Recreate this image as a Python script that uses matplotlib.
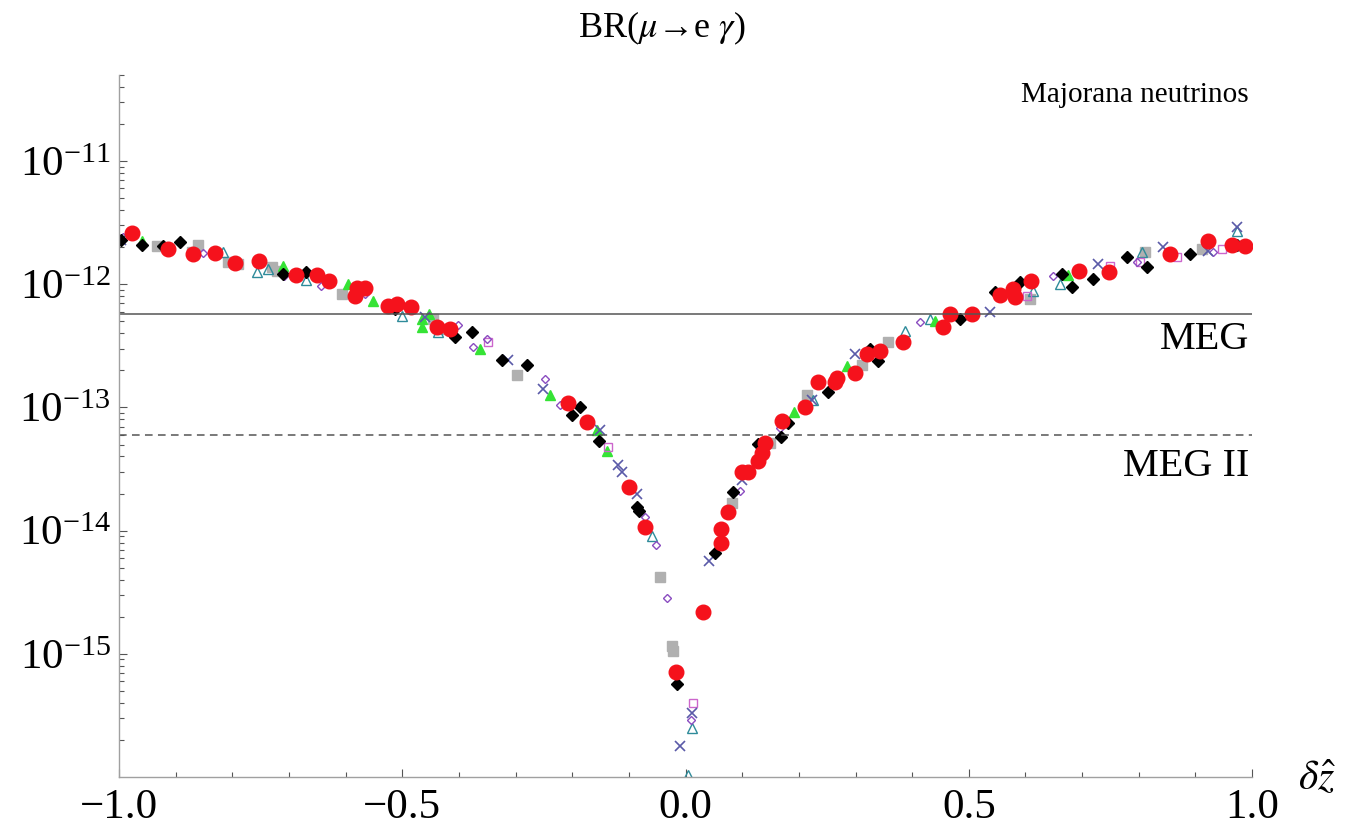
import matplotlib
matplotlib.use("Agg")
import matplotlib.pyplot as plt
from matplotlib.ticker import FixedLocator, NullFormatter, LogFormatterMathtext

plt.rcParams['font.family'] = ['Liberation Serif', 'DejaVu Serif']
plt.rcParams['mathtext.fontset'] = 'stix'

# --- scan points, one list pair per parameter set ---
red_x = [-0.977, -0.914, -0.869, -0.831, -0.795, -0.753, -0.688, -0.650, -0.629, -0.583,
         -0.580, -0.566, -0.525, -0.509, -0.485, -0.439, -0.416, -0.207, -0.174, -0.100,
         -0.071, -0.017, 0.031, 0.063, 0.063, 0.075, 0.100, 0.110, 0.128, 0.135,
         0.140, 0.170, 0.211, 0.234, 0.264, 0.267, 0.299, 0.320, 0.343, 0.384,
         0.455, 0.467, 0.506, 0.555, 0.578, 0.582, 0.610, 0.695, 0.748, 0.855,
         0.922, 0.965, 0.988]
red_br = [2.6e-12, 1.94e-12, 1.77e-12, 1.8e-12, 1.49e-12, 1.55e-12, 1.19e-12, 1.19e-12, 1.06e-12, 8.0e-13,
          9.3e-13, 9.3e-13, 6.6e-13, 6.9e-13, 6.5e-13, 4.5e-13, 4.3e-13, 1.09e-13, 7.6e-14, 2.25e-14,
          1.08e-14, 7.1e-16, 2.2e-15, 8.0e-15, 1.04e-14, 1.41e-14, 3.0e-14, 3.0e-14, 3.7e-14, 4.3e-14,
          5.15e-14, 7.8e-14, 1.0e-13, 1.6e-13, 1.6e-13, 1.75e-13, 1.9e-13, 2.7e-13, 2.85e-13, 3.4e-13,
          4.5e-13, 5.7e-13, 5.7e-13, 8.2e-13, 9.1e-13, 7.9e-13, 1.06e-12, 1.28e-12, 1.26e-12, 1.77e-12,
          2.25e-12, 2.1e-12, 2.05e-12]

black_x = [-0.996, -0.959, -0.922, -0.892, -0.711, -0.670, -0.513, -0.407, -0.377, -0.324,
           -0.280, -0.200, -0.186, -0.153, -0.086, -0.082, -0.015, 0.052, 0.084, 0.128,
           0.169, 0.181, 0.252, 0.326, 0.340, 0.485, 0.546, 0.590, 0.665, 0.682,
           0.719, 0.779, 0.815, 0.891, 0.974]
black_br = [2.3e-12, 2.1e-12, 2.05e-12, 2.2e-12, 1.21e-12, 1.26e-12, 6.3e-13, 3.7e-13, 4.1e-13, 2.45e-13,
            2.2e-13, 8.7e-14, 1.0e-13, 5.35e-14, 1.55e-14, 1.44e-14, 5.7e-16, 6.6e-15, 2.05e-14, 5.05e-14,
            5.8e-14, 7.5e-14, 1.34e-13, 3.0e-13, 2.4e-13, 5.2e-13, 8.6e-13, 1.04e-12, 1.21e-12, 9.5e-13,
            1.10e-12, 1.67e-12, 1.38e-12, 1.77e-12, 2.1e-12]

grey_x = [-0.933, -0.871, -0.861, -0.808, -0.790, -0.730, -0.721, -0.606, -0.446, -0.433,
          -0.297, -0.045, -0.024, -0.022, 0.082, 0.149, 0.214, 0.312, 0.357, 0.608,
          0.811, 0.912, 0.965]
grey_br = [2.05e-12, 1.83e-12, 2.1e-12, 1.52e-12, 1.46e-12, 1.38e-12, 1.28e-12, 8.3e-13, 5.2e-13, 4.3e-13,
           1.85e-13, 4.2e-15, 1.16e-15, 1.05e-15, 1.67e-14, 5.15e-14, 1.27e-13, 2.2e-13, 3.4e-13, 7.6e-13,
           1.83e-12, 1.94e-12, 2.05e-12]

green_x = [-0.959, -0.711, -0.596, -0.552, -0.465, -0.465, -0.453, -0.363, -0.239, -0.156,
           -0.139, 0.192, 0.285, 0.440, 0.675]
green_br = [2.25e-12, 1.41e-12, 1.0e-12, 7.3e-13, 5.2e-13, 4.5e-13, 5.7e-13, 3.0e-13, 1.27e-13, 6.6e-14,
            4.4e-14, 9.2e-14, 2.15e-13, 5.0e-13, 1.19e-12]

teal_x = [-0.816, -0.756, -0.737, -0.670, -0.500, -0.437, -0.059, 0.011, 0.004, 0.225,
          0.387, 0.432, 0.613, 0.661, 0.806, 0.974]
teal_br = [1.83e-12, 1.26e-12, 1.33e-12, 1.08e-12, 5.5e-13, 4.1e-13, 9.1e-15, 2.5e-16, 1.04e-16, 1.16e-13,
           4.15e-13, 5.2e-13, 8.8e-13, 1.0e-12, 1.83e-12, 2.7e-12]

purple_x = [-0.993, -0.852, -0.709, -0.643, -0.566, -0.402, -0.375, -0.350, -0.248, -0.222,
            -0.071, -0.052, -0.033, 0.010, 0.096, 0.167, 0.414, 0.649, 0.797, 0.931]
purple_br = [2.4e-12, 1.8e-12, 1.17e-12, 9.7e-13, 8.3e-13, 4.7e-13, 3.1e-13, 3.6e-13, 1.7e-13, 1.05e-13,
             1.28e-14, 7.6e-15, 2.85e-15, 2.9e-16, 2.1e-14, 6.8e-14, 4.9e-13, 1.17e-12, 1.52e-12, 1.83e-12]

cross_x = [-0.996, -0.460, -0.313, -0.252, -0.151, -0.119, -0.112, -0.086, -0.010, 0.011,
           0.041, 0.100, 0.223, 0.299, 0.538, 0.728, 0.843, 0.922, 0.974]
cross_br = [2.3e-12, 5.4e-13, 2.45e-13, 1.4e-13, 6.6e-14, 3.4e-14, 3.0e-14, 2.0e-14, 1.8e-16, 3.3e-16,
            5.7e-15, 2.6e-14, 1.16e-13, 2.7e-13, 6.0e-13, 1.46e-12, 2.0e-12, 1.87e-12, 2.9e-12]

magenta_x = [-0.349, -0.137, 0.013, 0.603, 0.749, 0.802, 0.868, 0.947]
magenta_br = [3.4e-13, 4.8e-14, 4.0e-16, 8.0e-13, 1.41e-12, 1.52e-12, 1.67e-12, 1.94e-12]

# experimental limits
meg_limit = 5.7e-13
meg2_limit = 6.0e-14

x_major = [-1.0, -0.5, 0.0, 0.5, 1.0]
x_labels = ['\u22121.0', '\u22120.5', '0.0', '0.5', '1.0']

fig = plt.figure(figsize=(13.45, 8.25), dpi=100)
ax = fig.add_axes([0.0885, 0.0582, 0.8424, 0.8509])

ax.plot(grey_x, grey_br, ls='none', marker='s', ms=7.5, color='#b0b0b0', mec='#b0b0b0')
ax.plot(teal_x, teal_br, ls='none', marker='^', ms=7, mfc='none', mec='#2e8b9a', mew=1.0)
ax.plot(green_x, green_br, ls='none', marker='^', ms=7, color='#35e335', mec='#35e335')
ax.plot(magenta_x, magenta_br, ls='none', marker='s', ms=6, mfc='none', mec='#cc66cc', mew=1.0)
ax.plot(purple_x, purple_br, ls='none', marker='D', ms=4.5, mfc='none', mec='#8a4cc0', mew=1.0)
ax.plot(cross_x, cross_br, ls='none', marker='x', ms=6.5, color='#5a5aa8', mew=1.2)
ax.plot(black_x, black_br, ls='none', marker='D', ms=6.3, color='black')
ax.plot(red_x, red_br, ls='none', marker='o', ms=10.5, color='#f5121c', mec='#f5121c')

ax.axhline(meg_limit, color='#555555', lw=1.1)
ax.axhline(meg2_limit, color='#555555', lw=1.1, dashes=(5, 3.5))

ax.set_yscale('log')
ax.set_xlim(-1.0, 1.0)
ax.set_ylim(1e-16, 5e-11)

for side in ('top', 'right'):
    ax.spines[side].set_visible(False)
for side in ('left', 'bottom'):
    ax.spines[side].set_color('#a0a0a0')
    ax.spines[side].set_linewidth(1.0)

ax.set_xticks(x_major)
ax.set_xticklabels(x_labels)
ax.xaxis.set_minor_locator(FixedLocator([i / 10 for i in range(-9, 10) if i % 5]))

ax.yaxis.set_major_locator(FixedLocator([1e-15, 1e-14, 1e-13, 1e-12, 1e-11]))
ax.yaxis.set_major_formatter(LogFormatterMathtext())
minor_y = [m * 10.0 ** e for e in range(-16, -10) for m in range(2, 10)]
ax.yaxis.set_minor_locator(FixedLocator([v for v in minor_y if v <= 5e-11]))
ax.yaxis.set_minor_formatter(NullFormatter())

ax.tick_params(which='both', direction='in', color='#555555', width=0.8)
ax.tick_params(which='major', length=6, labelsize=31, pad=6)
ax.tick_params(which='minor', length=3.5)
ax.tick_params(axis='x', which='major', pad=8)

fig.text(0.492, 0.955, 'BR($\\mu$\u2192e $\\gamma$)', fontsize=26, ha='center', va='baseline')
fig.text(0.928, 0.885, 'Majorana neutrinos', fontsize=21, ha='right', va='center')
fig.text(0.929, 0.588, 'MEG', fontsize=29, ha='right', va='center')
fig.text(0.929, 0.434, 'MEG II', fontsize=29, ha='right', va='center')
fig.text(0.979, 0.042, r'$\delta\hat{z}$', fontsize=30, ha='center', va='baseline')

fig.savefig('out.png', dpi=100)
